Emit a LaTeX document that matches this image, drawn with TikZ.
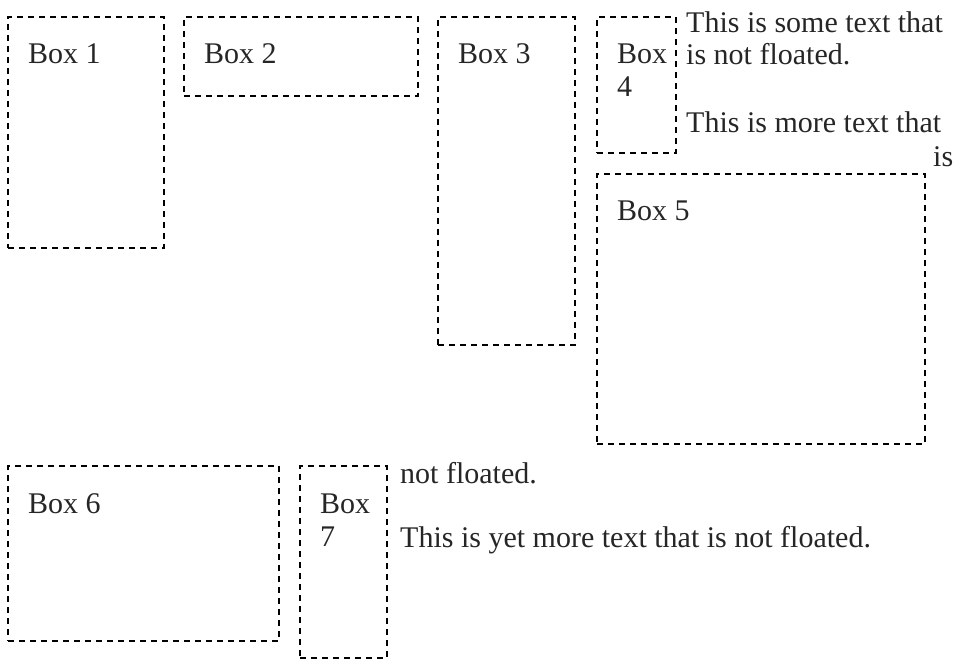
\documentclass[tikz,border=0pt]{standalone}
\usepackage{fontspec}
\setmainfont{Liberation Serif}
\usetikzlibrary{positioning, calc}

\begin{document}
\begin{tikzpicture}[x=1pt, y=-1pt]
    \tikzset{box/.style={draw, dash pattern=on 6pt off 5pt, line width=1.7pt, inner sep=0pt, outer sep=0pt, anchor=north west},
        txt/.style={inner sep=0pt, anchor=base west, text=black!85, font=\fontsize{30}{33}\selectfont}
    }
    \useasboundingbox (0,0) rectangle (955,660);

    \foreach \i / \x / \y / \w / \h in {1/8/17/156/231, 2/184/17/234/79, 3/438/17/137/328, 5/597/174/328/270, 6/8/466/271/175} {
        \node (B\i) [box, minimum width=\w pt, minimum height=\h pt] at (\x, \y) {};
        \node (B\i-Label) [txt] at ($(B\i.north west)+(20,47)$) {Box \i};
    }

    % narrow boxes, label wraps
    \foreach \i / \x / \y / \w / \h in {4/597/17/79/136, 7/300/466/87/192} {
        \node (B\i) [box, minimum width=\w pt, minimum height=\h pt] at (\x, \y) {};
        \node (B\i-Label) [txt] at ($(B\i.north west)+(20,47)$) {Box};
        \node (B\i-Num) [txt] at ($(B\i-Label.base west)+(0,33)$) {\i};
    }

    \node (P1-L1) [txt] at (686, 33) {This is some text that};
    \node (P1-L2) [txt] at (686, 65) {is not floated.};
    \node (P2-L1) [txt] at (686, 133) {This is more text that};
    \node (P2-L2) [txt] at (933, 167) {is};
    \node (P2-L3) [txt] at (400, 483) {not floated.};
    \node (P3-L1) [txt] at (400, 547) {This is yet more text that is not floated.};
\end{tikzpicture}
\end{document}
